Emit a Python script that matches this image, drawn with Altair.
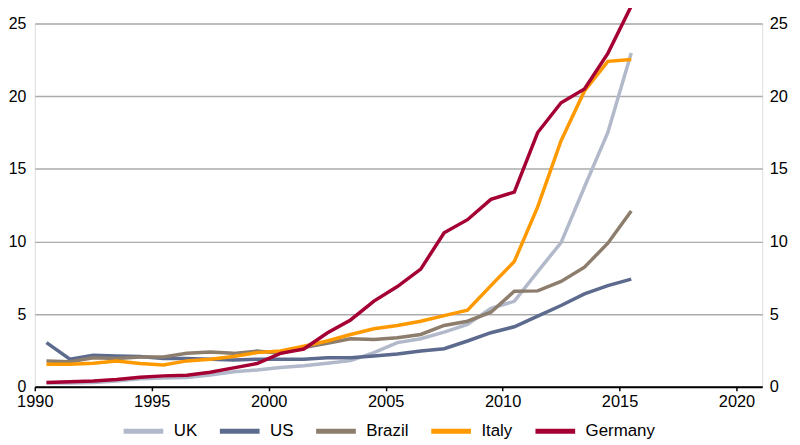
import altair as alt
import pandas as pd

years = list(range(1990, 2016))

uk = [0.25, 0.25, 0.3, 0.4, 0.55, 0.6, 0.64, 0.8, 1.03, 1.16, 1.33, 1.44, 1.62, 1.8,
      2.35, 3.04, 3.31, 3.76, 4.29, 5.4, 5.88, 7.93, 9.92, 13.75, 17.5, 22.98]
us = [3.04, 1.9, 2.17, 2.12, 2.08, 1.94, 1.94, 1.9, 1.85, 1.9, 1.9, 1.9, 2.0, 2.0,
      2.12, 2.25, 2.46, 2.62, 3.15, 3.72, 4.13, 4.86, 5.59, 6.39, 6.96, 7.41]
brazil = [1.78, 1.73, 2.0, 1.94, 2.05, 2.05, 2.3, 2.4, 2.3, 2.46, 2.3, 2.7, 3.0, 3.31,
          3.26, 3.38, 3.6, 4.22, 4.51, 5.13, 6.57, 6.6, 7.25, 8.23, 9.88, 12.1]
italy = [1.55, 1.55, 1.62, 1.78, 1.6, 1.5, 1.78, 1.9, 2.08, 2.35, 2.46, 2.8, 3.15, 3.6,
         3.99, 4.22, 4.51, 4.9, 5.27, 6.96, 8.62, 12.38, 16.94, 20.36, 22.4, 22.53]
germany = [0.3, 0.35, 0.4, 0.5, 0.65, 0.75, 0.8, 1.0, 1.3, 1.6, 2.3, 2.6, 3.7, 4.6,
           5.9, 6.9, 8.1, 10.6, 11.5, 12.9, 13.4, 17.5, 19.55, 20.5, 22.95, 26.2]

series_names = ["UK", "US", "Brazil", "Italy", "Germany"]
series_values = [uk, us, brazil, italy, germany]
series_colors = ["#B1B9CA", "#5C6B8D", "#8C7D6C", "#FF9900", "#A50034"]

x_ticks = [1990, 1995, 2000, 2005, 2010, 2015, 2020]
y_ticks = [0, 5, 10, 15, 20, 25]

rows = []
for name, vals in zip(series_names, series_values):
    for yr, v in zip(years, vals):
        rows.append({"year": yr + 0.5, "value": v, "country": name, "order": series_names.index(name)})
df = pd.DataFrame(rows)

FONT = "Liberation Sans"

x_enc = alt.X(
    "year:Q",
    scale=alt.Scale(domain=[1990, 2021.1], nice=False, zero=False),
    axis=alt.Axis(
        values=x_ticks, format="d", title=None, grid=False,
        domainColor="#000000", domainWidth=2, tickColor="#000000", tickWidth=1.5,
        tickSize=4, labelPadding=3, labelFontSize=16.5, labelFont=FONT, labelColor="#000000",
        labelFlush=False,
    ),
)
y_scale = alt.Scale(domain=[0, 25], nice=False)

lines = alt.Chart(df).mark_line(strokeWidth=3.5, strokeJoin="miter").encode(
    x=x_enc,
    y=alt.Y(
        "value:Q",
        scale=y_scale,
        axis=alt.Axis(
            values=y_ticks, title=None, orient="left", domain=False, ticks=False,
            grid=True, gridColor="#ABABAB", gridWidth=1.5,
            labelPadding=9, labelFontSize=16, labelFont=FONT, labelColor="#000000",
        ),
    ),
    color=alt.Color(
        "country:N",
        scale=alt.Scale(domain=series_names, range=series_colors),
        sort=series_names,
        legend=alt.Legend(
            title=None, orient="none", legendX=87, legendY=388, direction="horizontal",
            symbolType="stroke", symbolStrokeWidth=5, symbolSize=1600,
            labelFontSize=17, labelFont=FONT, labelColor="#000000",
            columnPadding=12, labelOffset=8,
        ),
    ),
    order=alt.Order("order:Q"),
)

right = alt.Chart(df).mark_line(opacity=0).encode(
    x=x_enc,
    y=alt.Y(
        "value:Q",
        scale=y_scale,
        axis=alt.Axis(
            values=y_ticks, title=None, orient="right", domain=False, ticks=False,
            grid=False, labelPadding=7, labelFontSize=16.5, labelFont=FONT,
            labelColor="#000000",
        ),
    ),
    detail="country:N",
)

chart = alt.layer(lines, right).resolve_scale(y="independent").properties(
    width=733,
    height=366,
    padding={"left": 27, "top": 14, "right": 30, "bottom": 56},
    autosize=alt.AutoSizeParams(type="none"),
).configure_view(stroke=None).configure(background="#ffffff")

chart.save("out.html", embed_options={"renderer": "svg", "actions": False})
